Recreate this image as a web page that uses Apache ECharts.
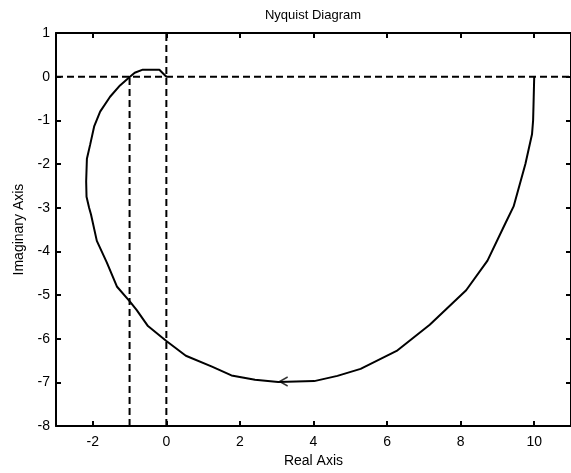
<!DOCTYPE html>
<html>
<head>
<meta charset="utf-8">
<script src="https://cdn.jsdelivr.net/npm/echarts@6/dist/echarts.min.js"></script>
<style>
  html, body { margin: 0; padding: 0; background: #fff; overflow: hidden; }
  #chart { width: 571px; height: 473px; }
</style>
</head>
<body>
<div id="chart"></div>
<script>
// Nyquist locus, traced from omega = 0 (point 10 + 0j) around to the origin
const realPart = [10, 9.98, 9.97, 9.94, 9.76, 9.44, 9.22, 8.73, 8.15, 7.16, 6.26, 5.28, 4.65, 4.02, 3.04, 2.41, 1.77, 1.24, 0.53, 0, -0.5, -0.81, -0.99, -1.34, -1.62, -1.89, -2.05, -2.1, -2.17, -2.18, -2.16, -2.07, -1.96, -1.8, -1.53, -1.26, -0.99, -0.86, -0.64, -0.19, 0];
const imagPart = [0, -0.68, -1.0, -1.32, -2.0, -2.97, -3.35, -4.21, -4.89, -5.68, -6.28, -6.69, -6.85, -6.97, -6.99, -6.94, -6.84, -6.64, -6.39, -6.05, -5.71, -5.34, -5.15, -4.81, -4.25, -3.76, -3.15, -3.0, -2.75, -2.4, -1.88, -1.55, -1.13, -0.8, -0.46, -0.2, 0, 0.09, 0.16, 0.16, 0];

// Direction marker on the locus
const arrowPoint = [3.08, -6.98];

// Dashed guide lines: real axis, imaginary axis, and the critical point -1
const realAxisLine = [[-3, 0], [11, 0]];
const imagAxisLine = [[0, -8], [0, 1]];
const criticalLine = [[-1, -8], [-1, 0]];

// Axis ranges and tick labels
const xRange = [-3, 11];
const yRange = [-8, 1];
const xTicks = [-2, 0, 2, 4, 6, 8, 10];
const yTicks = [-8, -7, -6, -5, -4, -3, -2, -1, 0, 1];

const FONT = '"Liberation Sans", Arial, sans-serif';
const locus = realPart.map((x, i) => [x, imagPart[i]]);

const frameLine = { show: true, onZero: false, lineStyle: { color: '#000', width: 2 } };
const tick = (vals) => ({ show: true, inside: true, length: 5, customValues: vals, lineStyle: { color: '#000', width: 2 } });

const dashStyle = { color: '#000', width: 2, type: [7, 4] };

const chart = echarts.init(document.getElementById('chart'), null, { renderer: 'canvas' });
chart.setOption({
  backgroundColor: '#fff',
  animation: false,
  title: {
    text: 'Nyquist Diagram',
    left: 308,
    top: 4,
    textAlign: 'center',
    textStyle: { fontFamily: FONT, fontSize: 13, fontWeight: 'normal', color: '#000' }
  },
  // the frame runs a few pixels past the right edge of the canvas
  grid: { left: 56, width: 520, top: 33, height: 400, containLabel: false },
  xAxis: [
    {
      type: 'value', position: 'bottom', min: xRange[0], max: xRange[1],
      axisLine: frameLine, axisTick: tick(xTicks), splitLine: { show: false },
      axisLabel: { customValues: xTicks, color: '#000', fontFamily: FONT, fontSize: 14, margin: 9 },
      name: 'Real Axis', nameLocation: 'middle', nameGap: 27,
      nameTextStyle: { fontFamily: FONT, fontSize: 14, color: '#000' }
    },
    {
      type: 'value', position: 'top', min: xRange[0], max: xRange[1],
      axisLine: frameLine, axisTick: tick(xTicks), splitLine: { show: false },
      axisLabel: { show: false }
    }
  ],
  yAxis: [
    {
      type: 'value', position: 'left', min: yRange[0], max: yRange[1],
      axisLine: frameLine, axisTick: tick(yTicks), splitLine: { show: false },
      axisLabel: { customValues: yTicks, color: '#000', fontFamily: FONT, fontSize: 14, margin: 6 },
      name: 'Imaginary Axis', nameLocation: 'middle', nameGap: 30,
      nameTextStyle: { fontFamily: FONT, fontSize: 14, color: '#000' }
    },
    {
      type: 'value', position: 'right', min: yRange[0], max: yRange[1],
      axisLine: frameLine, axisTick: tick(yTicks), splitLine: { show: false },
      axisLabel: { show: false }
    }
  ],
  series: [
    { type: 'line', data: realAxisLine, symbol: 'none', lineStyle: dashStyle, silent: true },
    { type: 'line', data: imagAxisLine, symbol: 'none', lineStyle: dashStyle, silent: true },
    { type: 'line', data: criticalLine, symbol: 'none', lineStyle: dashStyle, silent: true },
    { type: 'line', data: locus, symbol: 'none', smooth: false, lineStyle: { color: '#000', width: 2 } },
    {
      type: 'scatter', data: [arrowPoint],
      symbol: 'path://M8,0 L0,4.5 L8,9', symbolSize: [8, 9], symbolOffset: [4, 0],
      itemStyle: { color: 'transparent', borderColor: '#000', borderWidth: 1.5 }
    }
  ]
});
</script>
</body>
</html>
